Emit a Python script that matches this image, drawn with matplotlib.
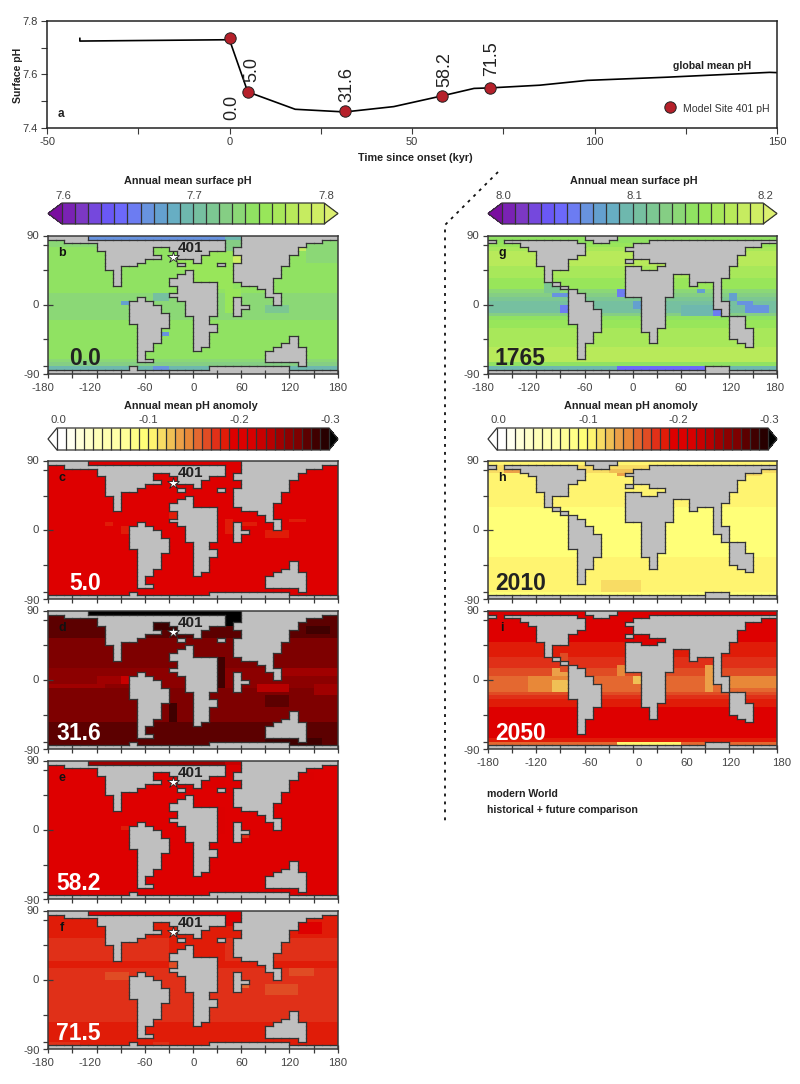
import numpy as np
import matplotlib
matplotlib.use("Agg")
import matplotlib.pyplot as plt
from matplotlib.colors import ListedColormap, BoundaryNorm
from matplotlib.cm import ScalarMappable
from matplotlib.collections import LineCollection
from matplotlib.lines import Line2D

plt.rcParams['font.family'] = ['Liberation Sans', 'DejaVu Sans']
plt.rcParams['axes.unicode_minus'] = False

W, H = 800, 1084
DARK = '#3a3a3a'
LAND = '#bfbfbf'

# ---------- panel a ----------
time_kyr = [-41, -41, 0, 5, 18, 31.6, 45, 58.2, 67, 71.5, 85, 98, 120, 148, 150]
global_ph = [7.735, 7.725, 7.73, 7.535, 7.47, 7.46, 7.48, 7.52, 7.548, 7.55, 7.56, 7.578, 7.59, 7.608, 7.607]
site_time = [0, 5, 31.6, 58.2, 71.5]
site_ph = [7.735, 7.535, 7.462, 7.52, 7.55]
site_labels = ['0.0', '5.0', '31.6', '58.2', '71.5']

# ---------- land masks: row (north to south) -> inclusive column ranges ----------
PALEO_LAND = {
    0: [(0, 4), (24, 35)], 1: [(2, 21), (24, 33)], 2: [(6, 21), (24, 31)],
    3: [(6, 12), (15, 21), (23, 30)], 4: [(7, 12), (16, 19), (23, 30)],
    5: [(7, 13), (16, 18), (24, 29)], 6: [(7, 11), (18, 18), (24, 29)],
    7: [(7, 10), (16, 16), (21, 21), (23, 29)], 8: [(7, 8), (23, 28)],
    9: [(8, 8), (17, 17), (23, 28)], 10: [(8, 8), (16, 17), (23, 28)],
    11: [(8, 8), (15, 17), (23, 27)], 12: [(8, 8), (15, 20), (24, 27)],
    13: [(16, 20), (26, 27)], 14: [(16, 20), (27, 27)], 15: [(15, 20), (27, 28)],
    16: [(11, 11), (16, 20), (23, 23), (28, 28)], 17: [(10, 12), (17, 20), (23, 23), (28, 28)],
    18: [(10, 13), (17, 20), (23, 24)], 19: [(10, 13), (17, 20), (23, 23)],
    20: [(10, 14), (17, 20), (23, 23)], 21: [(10, 14), (18, 19)], 22: [(10, 14), (18, 19)],
    23: [(11, 14), (18, 20)], 24: [(11, 13), (18, 20)], 25: [(11, 13), (18, 19)],
    26: [(11, 13), (18, 19), (30, 30)], 27: [(11, 13), (18, 19), (30, 30)],
    28: [(11, 12), (18, 19), (29, 30)], 29: [(11, 12), (18, 18), (28, 31)],
    30: [(11, 11), (27, 31)], 31: [(11, 11), (27, 31)], 32: [(11, 12), (27, 31)],
    33: [(31, 31)], 34: [(10, 10), (20, 29)], 35: [(0, 35)],
}
MODERN_LAND = {
    0: [(12, 15)], 1: [(0, 0), (2, 10), (13, 14), (20, 35)], 2: [(4, 11), (18, 33)],
    3: [(5, 11), (17, 31)], 4: [(6, 11), (18, 31)], 5: [(6, 10), (18, 30)],
    6: [(6, 9), (17, 17), (20, 30)], 7: [(6, 9), (22, 30)], 8: [(7, 9), (17, 18), (21, 29)],
    9: [(7, 7), (17, 29)], 10: [(7, 7), (17, 22), (25, 29)], 11: [(7, 7), (17, 22), (25, 28)],
    12: [(8, 8), (17, 22), (25, 25), (28, 28)], 13: [(9, 9), (17, 22), (28, 28)],
    14: [(10, 10), (17, 22), (28, 28)], 15: [(10, 11), (17, 22), (28, 28)],
    16: [(10, 11), (19, 21), (28, 28)], 17: [(10, 12), (19, 21), (28, 29)],
    18: [(10, 12), (19, 21), (28, 29)], 19: [(10, 13), (19, 21), (29, 29)],
    20: [(10, 13), (19, 21), (29, 29)], 21: [(10, 13), (19, 21), (30, 31)],
    22: [(10, 13), (19, 21), (30, 31)], 23: [(11, 13), (19, 21), (30, 31)],
    24: [(11, 13), (19, 20), (30, 32)], 25: [(11, 12), (20, 20), (30, 32)],
    26: [(11, 12), (20, 20), (30, 32)], 27: [(11, 12), (20, 20), (31, 32)],
    28: [(11, 11), (32, 32)], 29: [(11, 11)], 30: [(11, 11)], 31: [(11, 11)],
    34: [(27, 29)], 35: [(0, 35)],
}

# ---------- fields: one value per row plus (row0,row1,col0,col1,value) patches ----------
rows_b = [7.665, 7.735, 7.735, 7.745, 7.745, 7.745, 7.745, 7.745, 7.745, 7.745, 7.745, 7.745,
          7.745, 7.745, 7.745, 7.735, 7.735, 7.735, 7.735, 7.735, 7.735, 7.735, 7.745, 7.745,
          7.745, 7.745, 7.745, 7.745, 7.745, 7.745, 7.745, 7.745, 7.735, 7.725, 7.695, 7.695]
patch_b = [(0, 0, 22, 23, 7.69), (1, 3, 22, 23, 7.72), (4, 8, 16, 23, 7.755), (5, 6, 23, 23, 7.795),
           (3, 3, 31, 31, 7.785), (3, 6, 32, 35, 7.735), (17, 17, 9, 9, 7.67), (25, 25, 14, 14, 7.66),
           (18, 19, 27, 29, 7.715), (15, 16, 13, 14, 7.705), (34, 34, 13, 14, 7.665), (9, 13, 17, 22, 7.755),
           (14, 19, 22, 23, 7.755)]

rows_g = [8.145, 8.145, 8.155, 8.165, 8.175, 8.175, 8.175, 8.175, 8.165, 8.165, 8.165, 8.155,
          8.155, 8.155, 8.135, 8.125, 8.115, 8.105, 8.105, 8.105, 8.125, 8.145, 8.155, 8.155,
          8.165, 8.165, 8.165, 8.165, 8.165, 8.175, 8.175, 8.175, 8.175, 8.145, 8.095, 8.095]
patch_g = [(18, 19, 9, 9, 8.055), (15, 15, 8, 9, 8.065), (14, 15, 16, 16, 8.055), (17, 18, 18, 18, 8.075),
           (19, 20, 28, 28, 8.055), (15, 16, 30, 30, 8.075), (17, 17, 31, 32, 8.065), (18, 19, 32, 34, 8.065),
           (14, 14, 26, 26, 8.075), (34, 34, 16, 26, 8.045), (18, 20, 24, 27, 8.095), (12, 14, 7, 8, 8.115)]

rows_c = [-0.195] * 36
patch_c = [(16, 16, 7, 7, -0.185), (17, 18, 9, 9, -0.185), (13, 15, 15, 15, -0.185), (15, 18, 22, 22, -0.185),
           (16, 16, 24, 25, -0.185), (18, 19, 27, 29, -0.185), (15, 15, 30, 31, -0.185)]

rows_d = [-0.32, -0.275, -0.275, -0.275, -0.275, -0.275, -0.275, -0.265, -0.265, -0.265, -0.265, -0.265,
          -0.265, -0.265, -0.265, -0.255, -0.255, -0.255, -0.255, -0.255, -0.265, -0.265, -0.265, -0.265,
          -0.265, -0.265, -0.265, -0.265, -0.265, -0.275, -0.275, -0.275, -0.275, -0.275, -0.275, -0.275]
patch_d = [(1, 3, 22, 23, -0.31), (17, 18, 6, 10, -0.245), (17, 18, 9, 9, -0.225), (19, 19, 0, 6, -0.245),
           (12, 19, 21, 21, -0.285), (24, 28, 15, 15, -0.285), (15, 16, 29, 35, -0.245),
           (19, 20, 26, 29, -0.235), (19, 21, 33, 35, -0.245), (22, 24, 27, 29, -0.275), (33, 34, 27, 33, -0.285),
           (4, 5, 32, 34, -0.285), (3, 4, 13, 15, -0.285)]

rows_e = [-0.24] + [-0.195] * 35
patch_e = [(0, 0, 22, 23, -0.225), (1, 3, 22, 23, -0.215), (17, 17, 9, 9, -0.185), (19, 19, 24, 24, -0.175),
           (3, 4, 31, 32, -0.205), (4, 6, 16, 21, -0.205), (12, 18, 21, 21, -0.205)]

rows_f = [-0.195, -0.185, -0.185, -0.185, -0.185, -0.185, -0.185, -0.175, -0.175, -0.175, -0.175, -0.175,
          -0.175, -0.185, -0.185, -0.175, -0.175, -0.175, -0.175, -0.175, -0.175, -0.175, -0.175, -0.175,
          -0.175, -0.175, -0.175, -0.175, -0.175, -0.185, -0.185, -0.185, -0.185, -0.185, -0.185, -0.185]
patch_f = [(16, 17, 7, 9, -0.165), (15, 16, 30, 32, -0.165), (19, 21, 27, 30, -0.165), (19, 19, 24, 24, -0.155),
           (13, 14, 15, 15, -0.165), (1, 3, 21, 23, -0.195), (3, 5, 31, 33, -0.195), (34, 34, 13, 14, -0.175),
           (7, 12, 15, 21, -0.185), (34, 34, 0, 3, -0.175)]

rows_h = [-0.105, -0.11, -0.11, -0.105, -0.105, -0.105, -0.105, -0.105, -0.105, -0.105, -0.105, -0.105,
          -0.095, -0.095, -0.095, -0.095, -0.095, -0.095, -0.095, -0.095, -0.095, -0.095, -0.095, -0.095,
          -0.095, -0.105, -0.105, -0.105, -0.105, -0.105, -0.105, -0.105, -0.105, -0.105, -0.095, -0.095]
patch_h = [(2, 2, 2, 3, -0.13), (3, 3, 16, 16, -0.135), (2, 2, 15, 18, -0.125), (31, 33, 14, 18, -0.115),
           (1, 3, 32, 33, -0.115)]

rows_i = [-0.20, -0.195, -0.195, -0.195, -0.195, -0.195, -0.195, -0.195, -0.185, -0.185, -0.185, -0.185,
          -0.175, -0.175, -0.175, -0.165, -0.165, -0.155, -0.155, -0.155, -0.155, -0.165, -0.175, -0.185,
          -0.185, -0.195, -0.195, -0.195, -0.195, -0.195, -0.195, -0.195, -0.195, -0.185, -0.155, -0.155]
patch_i = [(17, 20, 5, 9, -0.145), (18, 20, 8, 9, -0.125), (15, 16, 8, 9, -0.135), (17, 20, 18, 18, -0.125),
           (14, 16, 16, 16, -0.14), (14, 20, 27, 27, -0.135), (17, 20, 24, 26, -0.15), (17, 19, 30, 35, -0.145),
           (34, 34, 16, 23, -0.105), (11, 15, 9, 9, -0.16), (19, 20, 17, 19, -0.15), (7, 8, 18, 21, -0.2)]

# ---------- colour scales ----------
ph_colors = ['#7a22b4', '#7c38c4', '#7548dd', '#6a58f5', '#6c68fb', '#6c7cf2', '#6893df', '#64a0cf',
             '#67aec3', '#6eb8ae', '#76c0a0', '#7cc792', '#85ce84', '#8bd876', '#90e262', '#98e65a',
             '#a8e85a', '#b8ea5a', '#c6ec60', '#d0ee64']
anom_colors = ['#ffffff', '#fffff0', '#ffffd8', '#ffffc8', '#ffffb8', '#ffffb0', '#ffffa8', '#ffff98',
               '#ffff88', '#ffff78', '#fff470', '#f8dc64', '#f0c055', '#eca048', '#e88838', '#e46830',
               '#e04c24', '#e03018', '#e01c08', '#de0000', '#dc0000', '#d80000', '#c80000', '#b80000',
               '#a00000', '#8c0000', '#7e0000', '#5c0000', '#400000', '#280000']


def make_scale(colors, vmin, vmax, under, over):
    cmap = ListedColormap(colors)
    cmap.set_under(under)
    cmap.set_over(over)
    return cmap, BoundaryNorm(np.linspace(vmin, vmax, len(colors) + 1), len(colors))


ph_low = make_scale(ph_colors, 7.6, 7.8, '#7a0ea0', '#dcf070')
ph_mod = make_scale(ph_colors, 8.0, 8.2, '#7a0ea0', '#dcf070')
anom = make_scale(anom_colors, 0.0, 0.3, '#ffffff', '#000000')

fig = plt.figure(figsize=(W / 100, H / 100), dpi=100, facecolor='white')


def add_axes(x0, y0, x1, y1):
    return fig.add_axes([x0 / W, 1 - y1 / H, (x1 - x0) / W, (y1 - y0) / H])


def ftext(x, y, s, **kw):
    kw.setdefault('ha', 'center')
    kw.setdefault('va', 'center')
    fig.text(x / W, 1 - y / H, s, **kw)


# ---------- panel a ----------
ax = add_axes(47, 21, 777, 128)
ax.plot(time_kyr, global_ph, color='black', lw=1.2, solid_joinstyle='round', zorder=2)
ax.plot(site_time, site_ph, 'o', ms=8.2, mfc='#b5202a', mec='#222222', mew=0.7, zorder=3)
ax.set_xlim(-50, 150)
ax.set_ylim(7.4, 7.8)
ax.set_xticks([-50, 0, 50, 100, 150])
ax.set_xticks([-25, 25, 75, 125], minor=True)
ax.set_yticks([7.4, 7.6, 7.8])
ax.set_yticks([7.5, 7.7], minor=True)
ax.set_yticklabels(['7.4', '7.6', '7.8'])
ax.tick_params(which='both', length=4, width=0.8, color=DARK, labelcolor=DARK, labelsize=8, pad=2.5)
for s in ax.spines.values():
    s.set_color('#222222')
    s.set_linewidth(1.1)
ftext(18, 75, 'Surface pH', rotation=90, fontsize=7.6, fontweight='bold', color='#222222')
ftext(415, 158, 'Time since onset (kyr)', fontsize=7.8, fontweight='bold', color='#222222')
ftext(712, 66, 'global mean pH', fontsize=7.6, fontweight='bold', color='#222222')
ftext(61, 114, 'a', fontsize=8.5, fontweight='bold', color='#222222')
ftext(726, 109, 'Model Site 401 pH', fontsize=7.6, color='#333333')
label_pos = [(232, 107), (252, 69), (347, 85), (445, 70), (492, 59)]
for (lx, ly), s in zip(label_pos, site_labels):
    ftext(lx, ly, s, rotation=90, fontsize=13, color='#222222')
fig.add_artist(Line2D([670 / W], [1 - 107 / H], marker='o', ms=8.2, mfc='#b5202a', mec='#222222',
                      mew=0.7, ls='none', transform=fig.transFigure))

# dotted connector
fig.add_artist(Line2D([498 / W, 445 / W, 445 / W], [1 - 172 / H, 1 - 225 / H, 1 - 825 / H],
                      color='#111111', lw=1.3, ls=(0, (1.6, 2.8)), transform=fig.transFigure))


# ---------- colour bars ----------
def colorbar(x_tip0, x0, x1, x_tip1, y0, y1, scale, ticks, ticklabels, title, title_x, title_y, label_y):
    cax = add_axes(x_tip0, y0, x_tip1, y1)
    cmap, norm = scale
    frac = (x0 - x_tip0) / (x1 - x0)
    cb = fig.colorbar(ScalarMappable(norm=norm, cmap=cmap), cax=cax, orientation='horizontal',
                      extend='both', extendfrac=frac, drawedges=True, spacing='proportional')
    cb.dividers.set_color('#333333')
    cb.dividers.set_linewidth(0.9)
    cb.outline.set_edgecolor('#333333')
    cb.outline.set_linewidth(0.9)
    cb.set_ticks(ticks)
    cb.set_ticklabels([])
    cb.ax.tick_params(length=0, which='both')
    for t, s in zip(ticks, ticklabels):
        xp = x0 + (t - ticks[0]) / (ticks[-1] - ticks[0]) * (x1 - x0)
        ftext(xp + 1, label_y, s, fontsize=8.2, color='#444444')
    ftext(title_x, title_y, title, fontsize=7.8, fontweight='bold', color='#222222')


colorbar(48, 62, 325, 338, 203, 224, ph_low, [7.6, 7.7, 7.8], ['7.6', '7.7', '7.8'],
         'Annual mean surface pH', 188, 181, 196)
colorbar(488, 502, 764, 777, 203, 224, ph_mod, [8.0, 8.1, 8.2], ['8.0', '8.1', '8.2'],
         'Annual mean surface pH', 634, 181, 196)
colorbar(48, 57, 329, 338, 428, 450, anom, [0.0, 0.1, 0.2, 0.3], ['0.0', '-0.1', '-0.2', '-0.3'],
         'Annual mean pH anomoly', 191, 406, 420)
colorbar(488, 497, 768, 777, 428, 450, anom, [0.0, 0.1, 0.2, 0.3], ['0.0', '-0.1', '-0.2', '-0.3'],
         'Annual mean pH anomoly', 631, 406, 420)

# ---------- maps ----------
lon_edges = np.arange(-180, 181, 10)
lat_edges = np.arange(90, -91, -5)
lon_labels = [-180, -120, -60, 0, 60, 120, 180]
shift_left = [-5, -7, 0, 1, 1, 0, 0]
shift_g = [-5, -7, 0, 0, 0, 2, -2]
shift_i = [0, 0, 5.5, 6, 6, 2, 5]


def land_mask(table):
    m = np.zeros((36, 36), bool)
    for r, spans in table.items():
        for a, b in spans:
            m[r, a:b + 1] = True
    return m


def coast_segments(m):
    segs = []
    for r in range(36):
        for c in range(36):
            if not m[r, c]:
                continue
            if r > 0 and not m[r - 1, c]:
                segs.append([(lon_edges[c], lat_edges[r]), (lon_edges[c + 1], lat_edges[r])])
            if r < 35 and not m[r + 1, c]:
                segs.append([(lon_edges[c], lat_edges[r + 1]), (lon_edges[c + 1], lat_edges[r + 1])])
            if c > 0 and not m[r, c - 1]:
                segs.append([(lon_edges[c], lat_edges[r]), (lon_edges[c], lat_edges[r + 1])])
            if c < 35 and not m[r, c + 1]:
                segs.append([(lon_edges[c + 1], lat_edges[r]), (lon_edges[c + 1], lat_edges[r + 1])])
    return segs


def field(rows, patches):
    f = np.repeat(np.array(rows, float)[:, None], 36, axis=1)
    for r0, r1, c0, c1, v in patches:
        f[r0:r1 + 1, c0:c1 + 1] = v
    return f


def draw_map(x0, y0, x1, y1, rows, patches, table, scale, negate, letter, stamp, stamp_color,
             stamp_x, shifts, site):
    ax = add_axes(x0, y0, x1, y1)
    m = land_mask(table)
    f = field(rows, patches)
    if negate:
        f = -f
    cmap, norm = scale
    ax.set_facecolor(LAND)
    ax.pcolormesh(lon_edges, lat_edges, np.ma.masked_where(m, f), cmap=cmap, norm=norm,
                  shading='flat', zorder=1, rasterized=True)
    ax.add_collection(LineCollection(coast_segments(m), colors='#333333', linewidths=0.9,
                                     capstyle='projecting', zorder=2))
    ax.set_xlim(-180, 180)
    ax.set_ylim(-90, 90)
    ax.set_xticks(np.arange(-180, 181, 60))
    ax.set_xticks(np.arange(-150, 180, 60), minor=True)
    ax.set_yticks([-90, 0, 90])
    ax.set_yticks([-80, -45, 45, 78], minor=True)
    ax.tick_params(axis='x', which='both', direction='inout', length=6, width=0.9, color=DARK, labelbottom=False)
    ax.tick_params(axis='y', which='both', direction='out', length=3.8, width=0.9, color=DARK, labelleft=False)
    ax.hlines(0, -180, -174, color=DARK, lw=0.9, zorder=3)
    for s in ax.spines.values():
        s.set_color(DARK)
        s.set_linewidth(1.1)
    ftext(x0 - 9, y0 + 0.5, '90', ha='right', fontsize=8.2, color='#444444')
    ftext(x0 - 9, (y0 + y1) / 2, '0', ha='right', fontsize=8.2, color='#444444')
    ftext(x0 - 8.5, y1 + 1.5, '-90', ha='right', fontsize=8.2, color='#444444')
    if shifts is not None:
        for lon, dx in zip(lon_labels, shifts):
            xp = x0 + (lon + 180) / 360 * (x1 - x0) + dx
            ftext(xp, y1 + 13.7, str(lon), fontsize=8.2, color='#444444')
    ftext(x0 + 14, y0 + 17, letter, fontsize=9, fontweight='bold', color='#111111')
    ftext(stamp_x, y0 + 122.5, stamp, ha='left', fontsize=16.5, fontweight='bold', color=stamp_color)
    if site:
        ax.plot([-25], [62], marker='*', ms=9, mfc='white', mec='#222222', mew=0.6, zorder=4)
        ftext(178, y0 + 12, '401', ha='left', fontsize=11, fontweight='bold', color='#222222')


LX0, LX1 = 48.3, 337.7
RX0, RX1 = 488.3, 777
draw_map(LX0, 235.7, LX1, 374, rows_b, patch_b, PALEO_LAND, ph_low, False, 'b', '0.0', '#222222', 69, shift_left, True)
draw_map(LX0, 461, LX1, 599.3, rows_c, patch_c, PALEO_LAND, anom, True, 'c', '5.0', 'white', 69, None, True)
draw_map(LX0, 610.7, LX1, 749.3, rows_d, patch_d, PALEO_LAND, anom, True, 'd', '31.6', 'white', 56, None, True)
draw_map(LX0, 760.7, LX1, 899.3, rows_e, patch_e, PALEO_LAND, anom, True, 'e', '58.2', 'white', 56, None, True)
draw_map(LX0, 910.7, LX1, 1049.3, rows_f, patch_f, PALEO_LAND, anom, True, 'f', '71.5', 'white', 56, shift_left, True)
draw_map(RX0, 235.7, RX1, 374, rows_g, patch_g, MODERN_LAND, ph_mod, False, 'g', '1765', '#222222', 495, shift_g, False)
draw_map(RX0, 461, RX1, 599.3, rows_h, patch_h, MODERN_LAND, anom, True, 'h', '2010', '#222222', 495, None, False)
draw_map(RX0, 610.7, RX1, 749.3, rows_i, patch_i, MODERN_LAND, anom, True, 'i', '2050', 'white', 495, shift_i, False)

ftext(487, 794, 'modern World', ha='left', fontsize=7.6, fontweight='bold', color='#222222')
ftext(487, 810, 'historical + future comparison', ha='left', fontsize=7.6, fontweight='bold', color='#222222')

fig.savefig('out.png', dpi=100, facecolor='white')
